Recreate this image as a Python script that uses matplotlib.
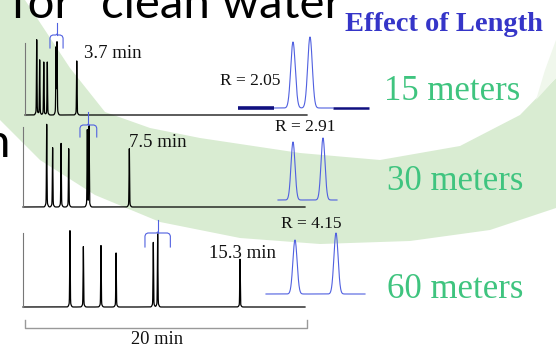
import numpy as np
import matplotlib
matplotlib.use("Agg")
import matplotlib.pyplot as plt
from matplotlib.patches import Polygon

# ---------------- data ----------------
lengths = ["15 meters", "30 meters", "60 meters"]
run_time_labels = ["3.7 min", "7.5 min", "15.3 min"]
resolutions = ["R = 2.05", "R = 2.91", "R = 4.15"]

# peak retention times (min) and heights (arbitrary units)
t15 = [0.83, 1.04, 1.33, 1.58, 2.20, 2.27, 3.67]
h15 = [71, 52, 50, 50, 62, 67, 51]
t30 = [1.68, 2.10, 2.70, 3.24, 4.56, 4.68, 7.54]
h30 = [78, 56, 60, 55, 72, 76, 55]
t60 = [3.33, 4.28, 5.53, 6.60, 9.24, 9.55, 15.39]
h60 = [72, 57, 58, 51, 61, 69, 45]

# critical pair close-ups (relative position, height)
pair15_pos = [55, 72]
pair15_h = [66, 71]
pair30_pos = [15, 45]
pair30_h = [58, 62]
pair60_pos = [29, 70]
pair60_h = [54, 61]

W, H = 556, 347
fig = plt.figure(figsize=(W / 100, H / 100), dpi=100)
fig.patch.set_facecolor("white")

def box(x0, y_top, x1, y_bot):
    return [x0 / W, 1 - y_bot / H, (x1 - x0) / W, (y_bot - y_top) / H]

def fx(x):
    return x / W

def fy(y):
    return 1 - y / H

# ---------------- background swoosh ----------------
bg = fig.add_axes([0, 0, 1, 1])
bg.set_xlim(0, W)
bg.set_ylim(H, 0)
bg.axis("off")
upper = [(0, 0), (25, 0), (35, 15), (70, 68), (105, 112), (150, 128), (200, 138),
         (300, 153), (380, 160), (460, 146), (520, 115), (556, 78)]
lower = [(556, 208), (490, 230), (410, 241), (320, 244), (240, 238), (160, 222),
         (95, 195), (40, 160), (0, 120)]
bg.add_patch(Polygon(upper + lower, closed=True, facecolor="#d9ecd2", edgecolor="none"))
bg.add_patch(Polygon([(556, 40), (556, 78), (536, 100), (545, 70)], closed=True,
                     facecolor="#f0f7ec", edgecolor="none"))

# ---------------- slide text fragments ----------------
fig.text(fx(11), fy(18), "for \u201cclean water", fontsize=34, family="Lato",
         color="black", va="baseline", ha="left")
fig.text(fx(10), fy(157), "n", fontsize=34, family="Lato", color="black",
         va="baseline", ha="right")
fig.text(fx(345), fy(31), "Effect of Length", fontsize=20.5, family="Liberation Serif",
         weight="bold", color="#3535c8", va="baseline", ha="left")

serif = "Liberation Serif"
green = "#3fc47f"
blue = "#5060e0"

# ---------------- chromatograms ----------------
def gauss_trace(x, pos, hts, s, base_frac=0.0, base_s=None):
    y = np.zeros_like(x)
    for p, h in zip(pos, hts):
        y += h * np.exp(-(x - p) ** 2 / (2 * s ** 2))
        if base_frac:
            y += h * base_frac * np.exp(-(x - p) ** 2 / (2 * base_s ** 2))
    return y

def bracket(ax, xl, xr, xc, y_arm, y_bar, y_stem):
    xs = [xl, xl, xl + 0.06, xl + 0.2, xc - 0.08, xc, xc + 0.08, xr - 0.2, xr - 0.06, xr, xr]
    ys = [y_arm, y_bar - 3, y_bar - 1, y_bar, y_bar, y_bar + 1, y_bar, y_bar, y_bar - 1, y_bar - 3, y_arm]
    ax.plot(xs, ys, color=blue, lw=0.8, clip_on=False)
    ax.plot([xc, xc], [y_bar, y_stem], color=blue, lw=0.8, clip_on=False)

chroms = [
    dict(t=t15, h=h15, box=(25, 43, 307, 115), label=(84, 53), br=(1.77, 2.70, 2.27, 67, 80, 92)),
    dict(t=t30, h=h30, box=(23, 127, 305, 207), label=(129, 142), br=(4.04, 5.23, 4.63, 70, 82, 95)),
    dict(t=t60, h=h60, box=(23, 233, 307, 307), label=(209, 253), br=(8.65, 10.45, 9.55, 60, 74, 87)),
]

tt = np.linspace(0, 20, 12000)
for i, c in enumerate(chroms):
    x0, yt, x1, yb = c["box"]
    ax = fig.add_axes(box(x0, yt, x1, yb))
    ax.set_facecolor("none")
    ax.set_xlim(0, 20 * (x1 - x0) / 282)
    ax.set_ylim(0, yb - yt)
    sig = gauss_trace(tt, c["t"], c["h"], 0.018, 0.06, 0.07)
    ax.plot(tt, sig, color="black", lw=0.9, clip_on=False)
    for s in ["top", "right", "bottom"]:
        ax.spines[s].set_visible(False)
    ax.spines["left"].set_color("#777777")
    ax.spines["left"].set_linewidth(0.8)
    ax.set_xticks([])
    ax.set_yticks([])
    bracket(ax, *c["br"])
    lx, ly = c["label"]
    fig.text(fx(lx), fy(ly), run_time_labels[i], fontsize=13.5, family=serif,
             color="#111111", va="center", ha="left")

# scale bar
sb = fig.add_axes(box(25, 320, 307, 328))
sb.set_xlim(0, 20)
sb.set_ylim(0, 1)
sb.axis("off")
sb.plot([0, 0, 20, 20], [1, 0, 0, 1], color="#999999", lw=1.0, clip_on=False)
fig.text(fx(157), fy(340), "20 min", fontsize=13.3, family=serif, color="#111111",
         va="center", ha="center")

# ---------------- close-up insets ----------------
insets = [
    dict(pos=pair15_pos, h=pair15_h, box=(238, 30, 369, 108), s=2.3, R=(250, 81), lab=(452, 92)),
    dict(pos=pair30_pos, h=pair30_h, box=(278, 130, 337, 200), s=2.0, R=(305, 127), lab=(455, 181)),
    dict(pos=pair60_pos, h=pair60_h, box=(266, 225, 365, 294), s=2.1, R=(311, 224), lab=(455, 289)),
]
for i, c in enumerate(insets):
    x0, yt, x1, yb = c["box"]
    ax = fig.add_axes(box(x0, yt, x1, yb))
    ax.set_facecolor("none")
    ax.axis("off")
    ax.set_xlim(0, x1 - x0)
    ax.set_ylim(0, yb - yt)
    if i == 0:
        xx = np.linspace(36, 95, 600)
        ax.plot(xx, gauss_trace(xx, c["pos"], c["h"], c["s"]), color=blue, lw=0.8, clip_on=False)
        ax.plot([0, 36], [0, 0], color="#101080", lw=2.6, solid_capstyle="butt", clip_on=False)
        ax.plot([95, x1 - x0], [0, 0], color="#101080", lw=1.8, solid_capstyle="butt", clip_on=False)
    else:
        xx = np.linspace(0, x1 - x0, 600)
        ax.plot(xx, gauss_trace(xx, c["pos"], c["h"], c["s"]), color=blue, lw=0.8, clip_on=False)
    rx, ry = c["R"]
    fig.text(fx(rx), fy(ry), resolutions[i], fontsize=12.5, family=serif, color="#111111",
             va="center", ha="center")
    lx, ly = c["lab"]
    fig.text(fx(lx), fy(ly), lengths[i], fontsize=25, family=serif, color=green,
             va="center", ha="center")

fig.savefig("out.png", dpi=100)
